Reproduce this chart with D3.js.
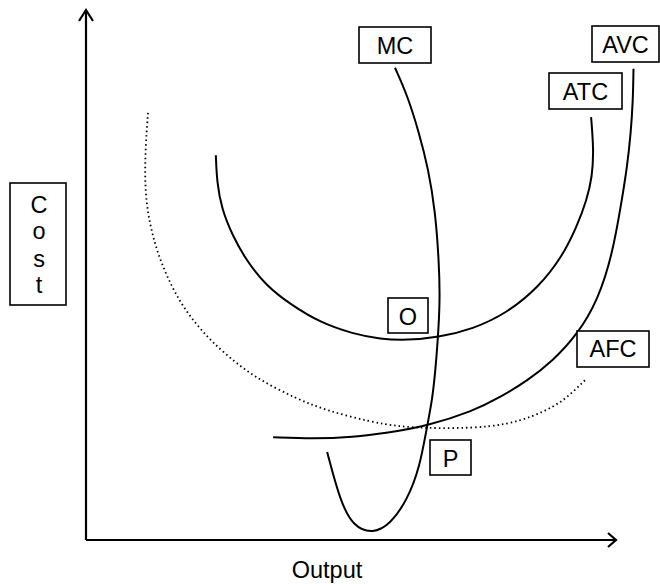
<!doctype html>
<html>
<head>
<meta charset="utf-8">
<title>Cost curves</title>
<script src="https://d3js.org/d3.v7.min.js"></script>
<style>
  body { margin: 0; background: #fff; }
  svg text { font-family: Arial, "Liberation Sans", sans-serif; font-size: 23.5px; fill: #000; }
  .curve { fill: none; stroke: #000; stroke-width: 2px; }
  .dotted { stroke-width: 1.8px; stroke-dasharray: 1.5 3; }
  .box { fill: #fff; stroke: #000; stroke-width: 1.6px; }
  .axis-line { fill: none; stroke: #000; stroke-width: 2.2px; }
</style>
</head>
<body>
<svg width="660" height="584"></svg>
<script>
// curve points, [output, cost]
var mcCurve = [[45.5,16.6],[47.9,7.5],[50.4,2.5],[54.2,1.2],[57.4,3.0],[60.6,7.5],[63.0,13.8],
  [64.3,21.3],[65.5,27.0],[66.4,37.7],[66.8,45.3],[66.6,52.5],[65.9,62.0],[64.6,70.0],
  [62.8,77.0],[60.6,84.0],[58.3,89.1]];
var atcCurve = [[24.5,72.6],[24.7,67.5],[25.6,62.5],[27.6,57.5],[30.4,52.5],[34.0,48.0],[38.5,44.5],
  [44.2,41.0],[50.4,38.9],[55.5,37.9],[60.6,37.7],[66.4,38.2],[73.0,39.8],[79.4,42.8],
  [85.4,47.7],[89.8,53.4],[92.6,59.1],[94.5,64.2],[95.5,68.5],[95.8,73.6],[95.3,79.8]];
var avcCurve = [[35.3,19.4],[42.8,19.1],[50.4,19.4],[56.8,20.2],[64.3,21.5],[73.0,24.3],
  [78.1,26.9],[83.2,30.0],[88.1,33.8],[92.8,38.9],[96.6,45.3],[99.3,53.8],[101.0,63.5],
  [102.1,70.4],[102.8,76.8],[103.2,83.0],[103.3,88.9]];
var afcCurve = [[11.7,80.6],[11.2,73.6],[11.1,67.0],[11.7,61.0],[13.4,54.2],[16.2,47.6],
  [19.1,42.8],[22.6,38.6],[25.7,35.6],[31.5,30.8],[39.8,26.6],[45.5,24.4],[53.6,22.3],
  [59.2,21.4],[64.3,21.1],[73.0,21.1],[79.4,21.8],[84.3,23.3],[88.1,25.1],[90.8,26.9],[94.2,30.2]];

var labelNames = ["MC", "AVC", "ATC", "O", "AFC", "P"];
var yTitle = ["C", "o", "s", "t"];
var xTitle = "Output";

var svg = d3.select("svg");

var x = d3.scaleLinear().domain([0, 100]).range([86, 616]);
var y = d3.scaleLinear().domain([0, 100]).range([540, 10]);

// axes with open arrow heads
svg.append("path").attr("class", "axis-line")
  .attr("d", "M" + x(0) + "," + y(0) + "V" + (y(100) + 1));
svg.append("path").attr("class", "axis-line")
  .attr("d", "M" + (x(0) - 7) + "," + (y(100) + 11) + "L" + x(0) + "," + y(100) + "L" + (x(0) + 7) + "," + (y(100) + 11));
svg.append("path").attr("class", "axis-line")
  .attr("d", "M" + x(0) + "," + y(0) + "H" + (x(100) - 1));
svg.append("path").attr("class", "axis-line")
  .attr("d", "M" + (x(100) - 8) + "," + (y(0) - 7) + "L" + x(100) + "," + y(0) + "L" + (x(100) - 8) + "," + (y(0) + 7));

var line = d3.line()
  .x(function(d) { return x(d[0]); })
  .y(function(d) { return y(d[1]); })
  .curve(d3.curveBasis);

svg.append("path").attr("class", "curve dotted").attr("d", line(afcCurve));
svg.append("path").attr("class", "curve").attr("d", line(atcCurve));
svg.append("path").attr("class", "curve").attr("d", line(avcCurve));
svg.append("path").attr("class", "curve").attr("d", line(mcCurve));

// label boxes (pixel layout)
var boxes = [
  { x: 359, y: 27, w: 72, h: 36, base: 54 },
  { x: 592, y: 26, w: 67, h: 36, base: 53 },
  { x: 549, y: 73, w: 73, h: 36, base: 100 },
  { x: 388, y: 298, w: 40, h: 35, base: 325 },
  { x: 577, y: 331, w: 72, h: 36, base: 357 },
  { x: 430, y: 440, w: 41, h: 35, base: 467 }
];

var lab = svg.selectAll("g.label")
  .data(labelNames)
  .enter().append("g")
  .attr("class", "label");

lab.append("rect").attr("class", "box")
  .attr("x", function(d, i) { return boxes[i].x; })
  .attr("y", function(d, i) { return boxes[i].y; })
  .attr("width", function(d, i) { return boxes[i].w; })
  .attr("height", function(d, i) { return boxes[i].h; });

lab.append("text")
  .attr("text-anchor", "middle")
  .attr("x", function(d, i) { return boxes[i].x + boxes[i].w / 2; })
  .attr("y", function(d, i) { return boxes[i].base; })
  .text(function(d) { return d; });

// y title box
svg.append("rect").attr("class", "box")
  .attr("x", 10).attr("y", 183).attr("width", 56).attr("height", 122);
svg.selectAll("text.ytitle")
  .data(yTitle)
  .enter().append("text")
  .attr("class", "ytitle")
  .attr("text-anchor", "middle")
  .attr("x", 39)
  .attr("y", function(d, i) { return [213, 239, 267, 293][i]; })
  .text(function(d) { return d; });

svg.append("text")
  .attr("text-anchor", "middle")
  .attr("x", 327)
  .attr("y", 578)
  .text(xTitle);
</script>
</body>
</html>
